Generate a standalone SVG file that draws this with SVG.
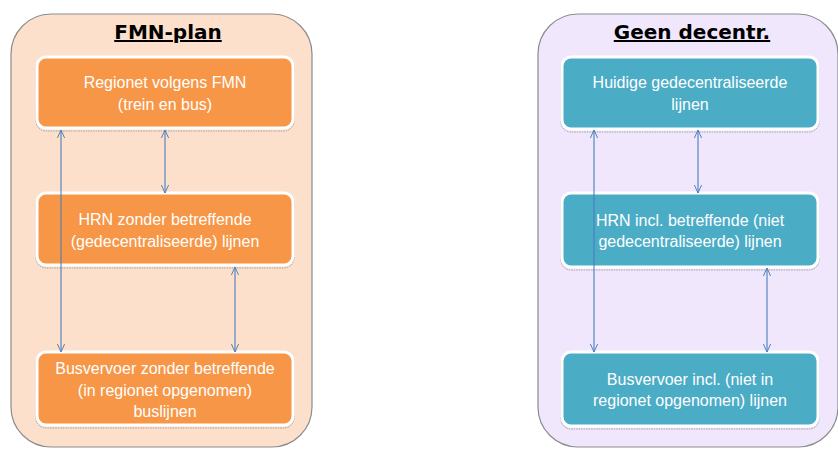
<svg xmlns="http://www.w3.org/2000/svg" width="838" height="450" viewBox="0 0 838 450">
<defs>
<style>
.cont{stroke:#8c8c8c;stroke-width:1.2}
.title{font-family:"DejaVu Sans",Verdana,sans-serif;font-weight:bold;font-size:20px;fill:#000;text-anchor:middle;text-decoration:underline}
.shadow{fill:none;stroke:#a0a0a0;stroke-width:1;stroke-dasharray:1.5 1}
.node{stroke:#fff;stroke-width:3}
.or{fill:#f79646}
.bl{fill:#4bacc6}
.lbl{font-family:"Liberation Sans",Arial,sans-serif;font-size:16px;fill:#fff;text-anchor:middle}
.con{stroke:#4a7ebb;stroke-width:1.1;fill:none;marker-start:url(#ah);marker-end:url(#ah)}
</style>
<marker id="ah" viewBox="0 0 10 10" refX="10" refY="5" markerWidth="8" markerHeight="8" markerUnits="userSpaceOnUse" orient="auto-start-reverse">
<path d="M0,0.5 L10,5 L0,9.5" fill="none" stroke="#4a7ebb" stroke-width="1.2"/>
</marker>
</defs>
<rect class="cont" x="11" y="14" width="301" height="433" rx="40" fill="#fde0cb"/>
<rect class="cont" x="538" y="14" width="300" height="433" rx="40" fill="#f0e7fc"/>
<text class="title" x="168" y="39">FMN-plan</text>
<text class="title" x="692" y="39">Geen decentr.</text>
<g id="n1">
<rect class="shadow" x="36" y="57" width="258" height="74" rx="10"/>
<rect class="node or" x="37" y="57" width="256" height="71" rx="9"/>
<text class="lbl" x="165" y="88">Regionet volgens FMN</text>
<text class="lbl" x="165" y="110">(trein en bus)</text>
</g>
<g id="n2">
<rect class="shadow" x="36" y="193" width="258" height="75" rx="10"/>
<rect class="node or" x="37" y="193" width="256" height="72" rx="9"/>
<text class="lbl" x="165" y="225">HRN zonder betreffende</text>
<text class="lbl" x="165" y="247">(gedecentraliseerde) lijnen</text>
</g>
<g id="n3">
<rect class="shadow" x="36" y="352" width="258" height="76" rx="10"/>
<rect class="node or" x="37" y="352" width="256" height="73" rx="9"/>
<text class="lbl" x="165" y="374">Busvervoer zonder betreffende</text>
<text class="lbl" x="165" y="396">(in regionet opgenomen)</text>
<text class="lbl" x="165" y="417">buslijnen</text>
</g>
<g id="n4">
<rect class="shadow" x="561" y="57" width="258" height="75" rx="10"/>
<rect class="node bl" x="562" y="57" width="256" height="72" rx="9"/>
<text class="lbl" x="690" y="88">Huidige gedecentraliseerde</text>
<text class="lbl" x="690" y="110">lijnen</text>
</g>
<g id="n5">
<rect class="shadow" x="561" y="193" width="258" height="77" rx="10"/>
<rect class="node bl" x="562" y="193" width="256" height="74" rx="9"/>
<text class="lbl" x="690" y="226">HRN incl. betreffende (niet</text>
<text class="lbl" x="690" y="247">gedecentraliseerde) lijnen</text>
</g>
<g id="n6">
<rect class="shadow" x="561" y="352" width="258" height="77" rx="10"/>
<rect class="node bl" x="562" y="352" width="256" height="74" rx="9"/>
<text class="lbl" x="690" y="385">Busvervoer incl. (niet in</text>
<text class="lbl" x="690" y="406">regionet opgenomen) lijnen</text>
</g>
<g id="connectors">
<line class="con" x1="165" y1="130" x2="165" y2="193"/>
<line class="con" x1="61" y1="130" x2="61" y2="352"/>
<line class="con" x1="235" y1="267" x2="235" y2="352"/>
<line class="con" x1="698" y1="130" x2="698" y2="193"/>
<line class="con" x1="594" y1="130" x2="594" y2="352"/>
<line class="con" x1="767" y1="268" x2="767" y2="352"/>
</g>
</svg>
